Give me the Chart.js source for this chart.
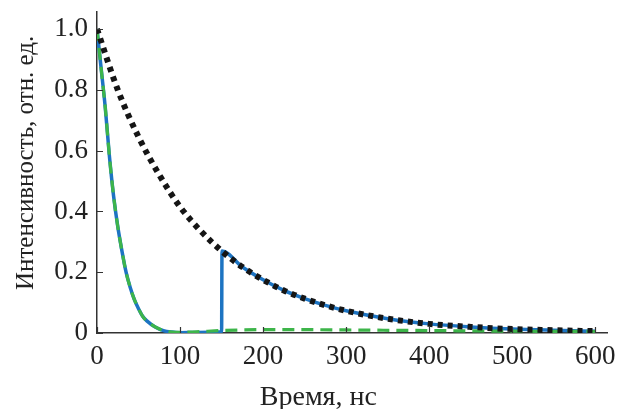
<!DOCTYPE html>
<html>
<head>
<meta charset="utf-8">
<script src="https://cdn.jsdelivr.net/npm/chart.js@4.4.1/dist/chart.umd.min.js"></script>
<style>
  html, body { margin: 0; padding: 0; background: #fff; }
  #wrap { width: 617px; height: 409px; }
</style>
</head>
<body>
<div id="wrap"><canvas id="chart" width="617" height="409"></canvas></div>
<script>
// time axis (ns) and intensities
const blueT = [0, 5, 10, 15, 20, 25, 30, 35, 40, 45, 50, 55, 60, 70, 80, 90, 100, 120, 150, 150.5, 175, 200, 225, 250, 275, 300, 350, 400, 450, 500, 550, 600];
const blueI = [1.0, 0.87, 0.74, 0.58, 0.45, 0.35, 0.27, 0.2, 0.15, 0.11, 0.08, 0.055, 0.04, 0.02, 0.008, 0.003, 0.001, 0.002, 0.004, 0.27, 0.217, 0.175, 0.14, 0.113, 0.091, 0.073, 0.047, 0.03, 0.02, 0.013, 0.009, 0.006];

const greenT = [0, 5, 10, 15, 20, 25, 30, 35, 40, 45, 50, 55, 60, 70, 80, 90, 100, 120, 150, 200, 250, 300, 400, 500, 600];
const greenI = [1.0, 0.87, 0.74, 0.58, 0.45, 0.35, 0.27, 0.2, 0.15, 0.11, 0.08, 0.055, 0.04, 0.02, 0.008, 0.003, 0.002, 0.004, 0.008, 0.011, 0.011, 0.01, 0.008, 0.006, 0.005];

const blackT = [0, 25, 50, 75, 100, 125, 150, 175, 200, 225, 250, 275, 300, 350, 400, 450, 500, 550, 600];
const blackI = [1.0, 0.8, 0.645, 0.52, 0.415, 0.335, 0.27, 0.217, 0.175, 0.14, 0.113, 0.091, 0.073, 0.047, 0.03, 0.02, 0.013, 0.009, 0.006];

const xTicks = [0, 100, 200, 300, 400, 500, 600];
const yTicks = [0, 0.2, 0.4, 0.6, 0.8, 1.0];

const xTitle = 'Время, нс';
const yTitle = 'Интенсивность, отн. ед.';

function pts(t, v) {
    return t.map((x, i) => ({ x: x, y: v[i] }));
}

const serif = '"Liberation Serif", "DejaVu Serif", serif';

// small tick marks pointing into the plot
const innerTicks = {
    id: 'innerTicks',
    afterDraw(chart) {
        const ctx = chart.ctx;
        const xs = chart.scales.x, ys = chart.scales.y;
        ctx.save();
        ctx.strokeStyle = '#333';
        ctx.lineWidth = 1.2;
        ctx.beginPath();
        xTicks.forEach(v => {
            const px = Math.round(xs.getPixelForValue(v)) + 0.5;
            ctx.moveTo(px, ys.bottom);
            ctx.lineTo(px, ys.bottom - 6);
        });
        yTicks.forEach(v => {
            const py = Math.round(ys.getPixelForValue(v)) + 0.5;
            ctx.moveTo(xs.left, py);
            ctx.lineTo(xs.left + 6, py);
        });
        ctx.stroke();
        ctx.restore();
    }
};

// axis titles, placed a little off-centre like the original figure
const axisTitles = {
    id: 'axisTitles',
    afterDraw(chart) {
        const ctx = chart.ctx;
        const area = chart.chartArea;
        ctx.save();
        ctx.fillStyle = '#222';
        ctx.textAlign = 'center';
        ctx.textBaseline = 'alphabetic';
        ctx.font = '28px ' + serif;
        ctx.fillText(xTitle, area.left + (area.right - area.left) * 0.434, chart.height - 4);
        ctx.font = '25px ' + serif;
        ctx.translate(33, area.top + (area.bottom - area.top) * 0.47);
        ctx.rotate(-Math.PI / 2);
        ctx.fillText(yTitle, 0, 0);
        ctx.restore();
    }
};

const ctx = document.getElementById('chart').getContext('2d');
new Chart(ctx, {
    type: 'line',
    data: {
        datasets: [
            {
                label: 'black',
                data: pts(blackT, blackI),
                borderColor: '#151515',
                borderWidth: 6,
                borderDash: [5, 5],
                borderCapStyle: 'butt',
                pointRadius: 0,
                cubicInterpolationMode: 'monotone',
                order: 1
            },
            {
                label: 'green',
                data: pts(greenT, greenI),
                borderColor: '#3db54a',
                borderWidth: 3.2,
                borderDash: [12, 7],
                borderCapStyle: 'butt',
                pointRadius: 0,
                cubicInterpolationMode: 'monotone',
                order: 2
            },
            {
                label: 'blue',
                data: pts(blueT, blueI),
                borderColor: '#1d74c2',
                borderWidth: 3.5,
                pointRadius: 0,
                cubicInterpolationMode: 'monotone',
                order: 3
            }
        ]
    },
    options: {
        responsive: false,
        animation: false,
        layout: { padding: { left: 0, right: 10, top: 12, bottom: 0 } },
        plugins: {
            legend: { display: false },
            tooltip: { enabled: false }
        },
        scales: {
            x: {
                type: 'linear',
                min: 0,
                max: 614,
                grid: { display: false, drawTicks: false },
                border: { display: true, color: '#333', width: 1.5 },
                ticks: {
                    stepSize: 100,
                    includeBounds: false,
                    padding: 8,
                    color: '#222',
                    font: { family: serif, size: 27 },
                    callback: v => String(v)
                },
                afterFit(scale) {
                    scale.height = 409 - 333;
                    scale.paddingLeft = 0;
                    scale.paddingRight = 0;
                }
            },
            y: {
                min: 0,
                max: 1.056,
                grid: { display: false, drawTicks: false },
                border: { display: true, color: '#333', width: 1.5 },
                ticks: {
                    stepSize: 0.2,
                    includeBounds: false,
                    padding: 9,
                    color: '#222',
                    font: { family: serif, size: 27 },
                    callback: v => v === 0 ? '0' : v.toFixed(1)
                },
                afterFit(scale) {
                    scale.width = 97;
                    scale.paddingTop = 0;
                    scale.paddingBottom = 0;
                }
            }
        }
    },
    plugins: [innerTicks, axisTitles]
});
</script>
</body>
</html>
